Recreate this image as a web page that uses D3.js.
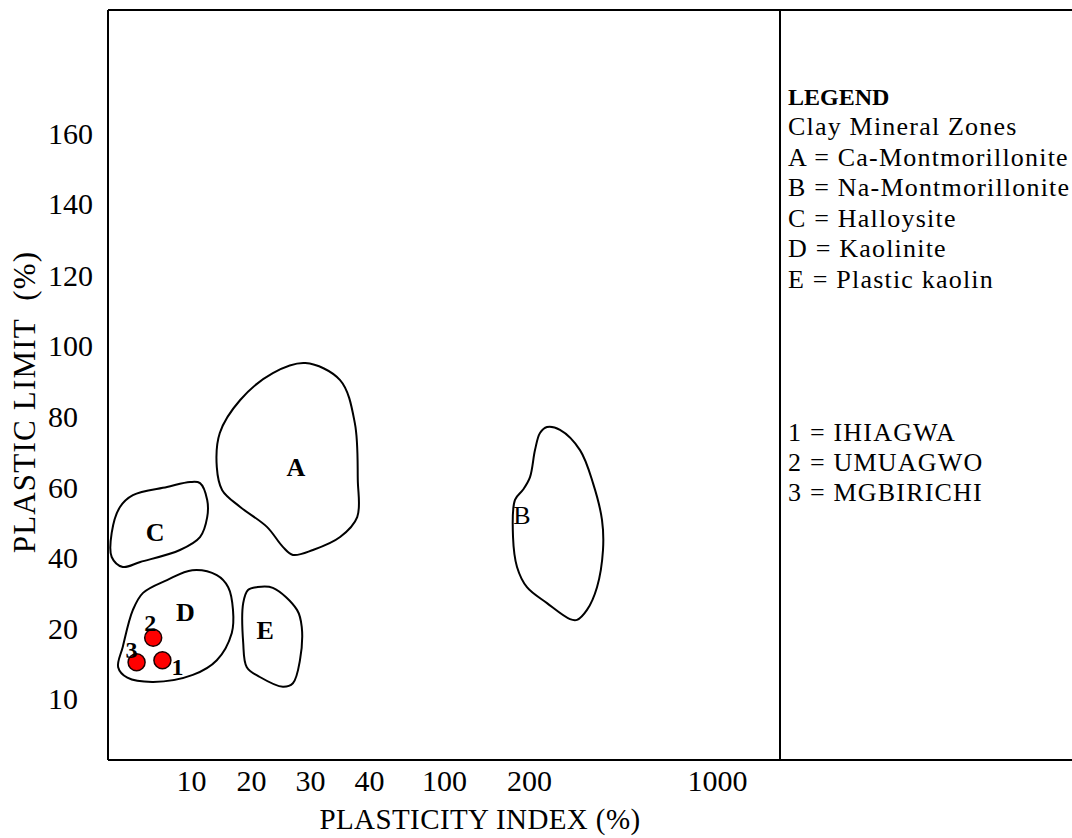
<!DOCTYPE html>
<html>
<head>
<meta charset="utf-8">
<script src="https://cdn.jsdelivr.net/npm/d3@7"></script>
<style>
  html, body { margin: 0; padding: 0; background: #fff; }
  svg { display: block; font-family: "Liberation Serif", "Times New Roman", serif; }
</style>
</head>
<body>
<svg id="chart" width="1072" height="838"></svg>
<script>
// Axis tick labels (plasticity index on x, plastic limit on y)
const xTickValues = [10, 20, 30, 40, 100, 200, 1000];
const yTickValues = [10, 20, 40, 60, 80, 100, 120, 140, 160];

// Clay mineral zone outlines, as [plasticity index, plastic limit] pairs
const zoneA = [[29.2,94.9],[35.1,90.1],[37.6,78.0],[38.1,62.0],[38.0,51.4],[35.1,45.7],[30.5,42.0],[27.1,40.6],
               [25.4,42.9],[22.7,48.6],[18.2,54.3],[15.2,59.1],[14.3,65.6],[14.8,75.2],[18.2,84.5],[23.7,92.1]];
const zoneB = [[276.6,76.9],[331.9,76.1],[417,70.4],[472.3,61.1],[510.6,50.6],[514.9,42.0],[489.4,31.5],[446.8,25.1],
               [404.3,22.3],[374.5,22.5],[276.6,27.0],[197.6,31.5],[185.9,37.2],[181.2,45.7],[183.5,56.3],[192.9,59.2],
               [204.3,62.8],[225.5,70.4],[246.8,75.2]];
const zoneC = [[11.5,61.1],[12.7,56.3],[12.7,51.4],[11.5,45.7],[8.8,42.0],[4.5,38.6],[2.6,37.2],[1.4,40.0],
               [1.4,46.9],[2.3,54.3],[3.7,57.7],[7.4,60.0],[9.9,61.4]];
const zoneD = [[10.2,36.3],[14.3,34.9],[16.2,31.5],[17.0,25.1],[16.8,19.3],[14.3,15.4],[10.3,13.3],[5.9,12.3],
               [3.1,12.9],[2.1,14.4],[2.6,17.3],[3.7,25.1],[4.8,29.9],[7.4,33.5]];
const zoneE = [[21.0,31.5],[23.7,31.3],[27.8,25.1],[28.6,20.3],[28.3,15.4],[27.1,12.1],[25.4,11.6],[21.5,13.0],
               [19.3,14.4],[18.7,17.9],[18.7,27.0],[19.5,30.7]];

// Zone letters and where each letter sits
const zoneNames = ["A", "B", "C", "D", "E"];
const zoneLabelAt = [[27.6,65.6],[191.8,52.0],[6.1,47.1],[9.4,24.5],[22.4,19.7]];
const zoneLabelBold = [true, false, true, true, true];

// Sample points
const sampleIds = ["1", "2", "3"];
const samplePI = [6.9, 5.9, 4.1];
const samplePL = [15.4, 18.6, 15.1];

// Legend lines
const legendTitle = "LEGEND";
const legendZoneLines = ["Clay Mineral Zones", "A = Ca-Montmorillonite", "B = Na-Montmorillonite",
                         "C = Halloysite", "D = Kaolinite", "E = Plastic kaolin"];
const legendSampleLines = ["1 = IHIAGWA", "2 = UMUAGWO", "3 = MGBIRICHI"];

const svg = d3.select("#chart");

// Frame geometry
const frameLeft = 108, frameTop = 10, frameBottom = 760, frameDivider = 780, frameRight = 1072;

// Non-uniform axes: piecewise-linear scales through the labelled positions
const x = d3.scaleLinear()
  .domain([1, 10, 20, 30, 40, 100, 200, 1000])
  .range([frameLeft, 191, 251, 310, 369, 444, 529, 717]);
const y = d3.scaleLinear()
  .domain(yTickValues)
  .range([698, 628, 557, 487, 416, 345, 275, 203, 133]);

// Frame
const frame = svg.append("g").attr("fill", "none").attr("stroke", "#000").attr("stroke-width", 2);
frame.append("line").attr("x1", frameLeft).attr("x2", frameRight).attr("y1", frameTop).attr("y2", frameTop);
frame.append("line").attr("x1", frameLeft).attr("x2", frameRight).attr("y1", frameBottom).attr("y2", frameBottom);
frame.append("line").attr("x1", frameLeft).attr("x2", frameLeft).attr("y1", frameTop).attr("y2", frameBottom);
frame.append("line").attr("x1", frameDivider).attr("x2", frameDivider).attr("y1", frameTop).attr("y2", frameBottom);

// X axis labels
const xAxis = svg.append("g")
  .attr("transform", `translate(0,${frameBottom})`)
  .call(d3.axisBottom(x).tickValues(xTickValues).tickSize(0).tickPadding(10).tickFormat(d3.format("d")));
xAxis.select(".domain").remove();
xAxis.selectAll("text")
  .attr("font-family", "Liberation Serif, serif")
  .attr("font-size", 30)
  .attr("fill", "#000")
  .attr("dy", null)
  .attr("y", 31);

// Y axis labels, left-aligned
const yAxis = svg.append("g")
  .attr("transform", `translate(48,0)`)
  .call(d3.axisLeft(y).tickValues(yTickValues).tickSize(0).tickPadding(0).tickFormat(d3.format("d")));
yAxis.select(".domain").remove();
yAxis.selectAll("text")
  .attr("font-family", "Liberation Serif, serif")
  .attr("font-size", 30)
  .attr("fill", "#000")
  .attr("text-anchor", "start")
  .attr("x", 0)
  .attr("dy", "0.34em");

// Axis titles
svg.append("text")
  .attr("x", 480).attr("y", 829)
  .attr("text-anchor", "middle")
  .attr("font-size", 29)
  .attr("letter-spacing", 0.4)
  .text("PLASTICITY INDEX (%)");
svg.append("text")
  .attr("transform", "translate(35,402) rotate(-90)")
  .attr("text-anchor", "middle")
  .attr("font-size", 31)
  .attr("letter-spacing", 1.2)
  .attr("xml:space", "preserve")
  .text("PLASTIC LIMIT  (%)");

// Zone outlines
const outline = d3.line()
  .x(d => x(d[0]))
  .y(d => y(d[1]))
  .curve(d3.curveCatmullRomClosed.alpha(0.5));
const zones = [zoneA, zoneB, zoneC, zoneD, zoneE];
svg.append("g")
  .selectAll("path")
  .data(zones)
  .join("path")
  .attr("d", outline)
  .attr("fill", "none")
  .attr("stroke", "#000")
  .attr("stroke-width", 2);

// Zone letters
svg.append("g")
  .selectAll("text")
  .data(zoneNames)
  .join("text")
  .attr("x", (d, i) => x(zoneLabelAt[i][0]))
  .attr("y", (d, i) => y(zoneLabelAt[i][1]))
  .attr("dy", "0.35em")
  .attr("text-anchor", "middle")
  .attr("font-size", 26)
  .attr("font-weight", (d, i) => zoneLabelBold[i] ? "bold" : "normal")
  .text(d => d);

// Sample points
const samples = sampleIds.map((id, i) => ({ id, pi: samplePI[i], pl: samplePL[i] }));
svg.append("g")
  .selectAll("circle")
  .data(samples)
  .join("circle")
  .attr("cx", d => x(d.pi))
  .attr("cy", d => y(d.pl))
  .attr("r", 8.5)
  .attr("fill", "#ff0000")
  .attr("stroke", "#1a0000")
  .attr("stroke-width", 1.5);

// Sample numbers beside each point
const numberOffset = { "1": [15, 6], "2": [-3, -15], "3": [-5, -13] };
svg.append("g")
  .selectAll("text")
  .data(samples)
  .join("text")
  .attr("x", d => x(d.pi) + numberOffset[d.id][0])
  .attr("y", d => y(d.pl) + numberOffset[d.id][1])
  .attr("dy", "0.35em")
  .attr("text-anchor", "middle")
  .attr("font-size", 24)
  .attr("font-weight", "bold")
  .text(d => d.id);

// Legend: title, zone key, then sample key
const legend = svg.append("g").attr("font-size", 26).attr("fill", "#000");
legend.append("text")
  .attr("x", 788).attr("y", 105)
  .attr("font-weight", "bold")
  .attr("font-size", 24)
  .text(legendTitle);
legend.selectAll("text.zone")
  .data(legendZoneLines)
  .join("text")
  .attr("class", "zone")
  .attr("x", 788)
  .attr("y", (d, i) => 135 + i * 30.5)
  .attr("letter-spacing", 1.2)
  .text(d => d);
legend.selectAll("text.sample")
  .data(legendSampleLines)
  .join("text")
  .attr("class", "sample")
  .attr("x", 788)
  .attr("y", (d, i) => 441 + i * 30)
  .attr("letter-spacing", 1.2)
  .text(d => d);
</script>
</body>
</html>
